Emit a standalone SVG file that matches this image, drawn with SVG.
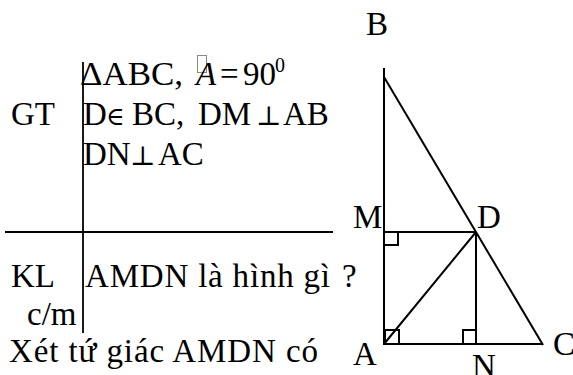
<svg xmlns="http://www.w3.org/2000/svg" width="573" height="375" viewBox="0 0 573 375" font-family="Liberation Serif" font-size="33">
<style>
.ln{stroke:#000;stroke-width:2;fill:none}
.tb{stroke:#000;stroke-width:1.8;fill:none}
</style>
<rect width="573" height="375" fill="#fff"/>
<g id="table">
<line class="tb" x1="83" y1="62" x2="83" y2="333"/>
<line class="tb" x1="5" y1="232" x2="333" y2="232"/>
</g>
<g id="gt" font-family="Liberation Serif" font-size="33">
<text x="11" y="125">GT</text>
<text x="80" y="85" textLength="103" lengthAdjust="spacingAndGlyphs">ΔABC,</text>
<rect x="197.5" y="55.5" width="9" height="17" fill="none" stroke="#888" stroke-width="1"/>
<text x="196" y="85" font-style="italic">A</text>
<text x="220" y="85">=</text>
<text x="243" y="85">90</text>
<text x="275" y="72" font-size="20">0</text>
<text y="125"><tspan x="83">D</tspan><tspan x="106" font-family="DejaVu Serif" font-size="25">∈</tspan><tspan x="132">BC,</tspan><tspan x="198">DM</tspan><tspan x="256" font-family="DejaVu Serif" font-size="27">⊥</tspan><tspan x="283">AB</tspan></text>
<text y="165"><tspan x="83">DN</tspan><tspan x="130" font-family="DejaVu Serif" font-size="27">⊥</tspan><tspan x="158">AC</tspan></text>
</g>
<g id="kl" font-family="Liberation Serif" font-size="33">
<text x="11" y="287">KL</text>
<text x="85" y="287" textLength="245" lengthAdjust="spacing">AMDN là hình gì</text>
<text x="342" y="287">?</text>
<text x="27" y="325">c/m</text>
<text x="9" y="362" textLength="309" lengthAdjust="spacing">Xét tứ giác AMDN có</text>
</g>
<g id="figure">
<line class="ln" x1="384" y1="68" x2="384" y2="345"/>
<line class="ln" x1="384" y1="77" x2="543" y2="345"/>
<line class="ln" x1="383" y1="344" x2="543" y2="344"/>
<line class="ln" x1="384" y1="232" x2="476" y2="232"/>
<line class="ln" x1="476" y1="232" x2="476" y2="344"/>
<line class="ln" x1="384" y1="344" x2="476" y2="232"/>
<rect class="ln" x="384" y="232" width="14" height="13"/>
<rect class="ln" x="385" y="330" width="14" height="14"/>
<rect class="ln" x="463" y="330" width="13" height="14"/>
</g>
<g id="labels" font-family="Liberation Serif" font-size="33">
<text x="366" y="35">B</text>
<text x="353" y="228">M</text>
<text x="477" y="228">D</text>
<text x="353" y="365">A</text>
<text x="472" y="377">N</text>
<text x="553" y="355">C</text>
</g>
</svg>
